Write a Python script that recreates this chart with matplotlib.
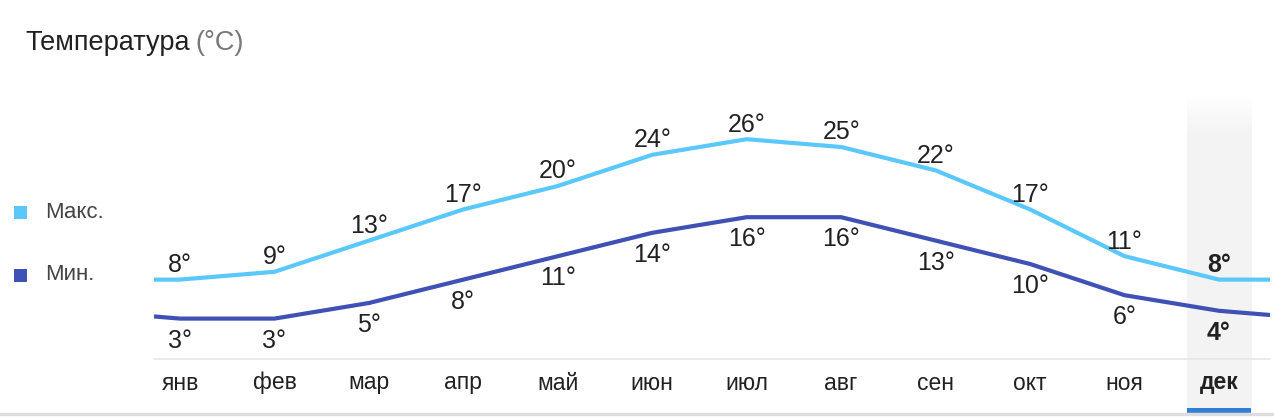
import numpy as np
import matplotlib
matplotlib.use("Agg")
import matplotlib.pyplot as plt

plt.rcParams['font.family'] = ['Liberation Sans', 'DejaVu Sans']

months = ['янв', 'фев', 'мар', 'апр', 'май', 'июн', 'июл', 'авг', 'сен', 'окт', 'ноя', 'дек']
t_max = [8, 9, 13, 17, 20, 24, 26, 25, 22, 17, 11, 8]
t_min = [3, 3, 5, 8, 11, 14, 16, 16, 13, 10, 6, 4]
current = 11  # дек is highlighted

c_max = '#5ac8fa'
c_min = '#3f51b5'
c_text = '#212121'

W, H = 1274, 418
fig = plt.figure(figsize=(W / 100, H / 100), dpi=100)
fig.patch.set_facecolor('white')

# axes spanning the full height so axes fraction == figure fraction
ax = fig.add_axes([154 / W, 0, (1270 - 154) / W, 1])
ax.set_xlim(-0.2753, 11.540)
ax.set_ylim(-9.744, 43.846)
ax.axis('off')

def fy(py):
    return 1 - py / H

# highlighted column with soft top edge
grad = np.ones((100, 1, 4))
grad[:, 0, :3] = 0.953
grad[:, 0, 3] = np.clip(np.arange(100) / 12.0, 0, 1)
tr = ax.get_xaxis_transform()
ax.imshow(grad, extent=(current - 0.339, current + 0.339, fy(410), fy(93)),
          transform=tr, aspect='auto', zorder=0, origin='upper')
ax.set_xlim(-0.2753, 11.540)
ax.set_ylim(-9.744, 43.846)

# axis line
ax.plot([0, 1], [fy(359), fy(359)], transform=ax.transAxes, color='#e6e6e6', lw=1.2, zorder=1)

# lines wrap around the year at both edges
x = np.arange(-1, 13)
ymax_wrap = np.r_[t_max[-1], t_max, t_max[0]]
ymin_wrap = np.r_[t_min[-1], t_min, t_min[0]]
ax.plot(x, ymax_wrap, color=c_max, lw=3, solid_joinstyle='round', zorder=3)
ax.plot(x, ymin_wrap, color=c_min, lw=3, solid_joinstyle='round', zorder=3)

for i, m in enumerate(months):
    bold = 'bold' if i == current else 'normal'
    ax.annotate(f'{t_max[i]}°', (i, t_max[i]), xytext=(0, 5.5), textcoords='offset points',
                ha='center', va='baseline', fontsize=18, color=c_text, fontweight=bold, zorder=4)
    ax.annotate(f'{t_min[i]}°', (i, t_min[i]), xytext=(0, -21), textcoords='offset points',
                ha='center', va='baseline', fontsize=18, color=c_text, fontweight=bold, zorder=4)
    ax.text(i, fy(383), m, transform=tr, ha='center', va='center', fontsize=16.5,
            color=c_text, fontweight=bold)

# blue marker under the current month
ax.fill_between([current - 0.339, current + 0.339], fy(414), fy(408), transform=tr,
                color='#2f7fd6', lw=0, zorder=5)

# bottom separator
fig.add_artist(plt.Line2D([0, 1], [fy(414), fy(414)], transform=fig.transFigure,
                          color='#dddddd', lw=2.5, zorder=4))

# title
t1 = fig.text(25 / W, fy(43), 'Температура', ha='left', va='center', fontsize=19.5, color=c_text)
fig.canvas.draw()
bb = t1.get_window_extent()
fig.text(bb.x1 / W + 6 / W, fy(43), '(°C)', ha='left', va='center', fontsize=19.5, color='#777777')

# legend
for label, col, py in [('Макс.', c_max, 212), ('Мин.', c_min, 275)]:
    fig.patches.append(plt.Rectangle((14 / W, fy(py + 6.5)), 13 / W, 13 / H,
                                     transform=fig.transFigure, color=col, lw=0))
    fig.text(45 / W, fy(py), label, ha='left', va='center', fontsize=16, color='#444444')

fig.savefig('out.png', dpi=100)
